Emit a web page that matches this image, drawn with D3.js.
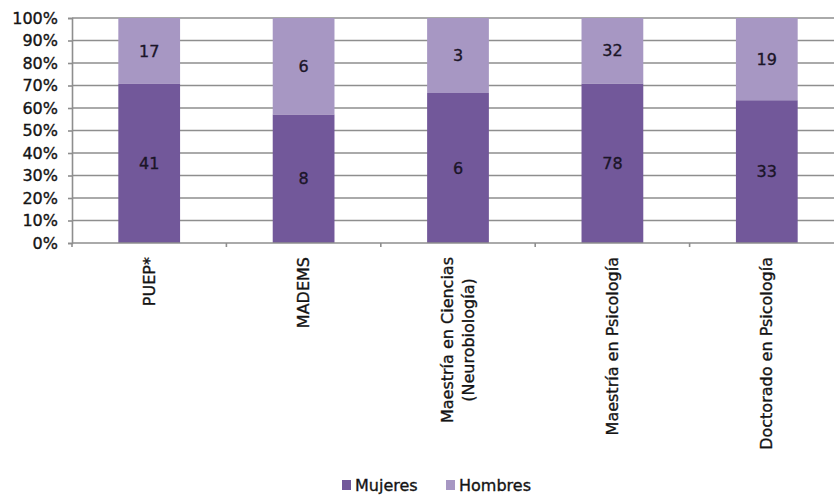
<!DOCTYPE html>
<html>
<head>
<meta charset="utf-8">
<script src="https://cdn.jsdelivr.net/npm/d3@7"></script>
<style>
  html, body { margin: 0; padding: 0; background: #fff; }
  svg { display: block; font-family: "DejaVu Sans", sans-serif; }
  svg text { stroke: currentColor; stroke-width: 0.35px; }
</style>
</head>
<body>
<svg id="chart" width="834" height="496" style="color:#141414"></svg>
<script>
const categories = ["PUEP*", "MADEMS", "Maestría en Ciencias\n(Neurobiología)", "Maestría en Psicología", "Doctorado en Psicología"];
const mujeres = [41, 8, 6, 78, 33];
const hombres = [17, 6, 3, 32, 19];
const seriesNames = ["Mujeres", "Hombres"];
const yTicks = [0, 0.1, 0.2, 0.3, 0.4, 0.5, 0.6, 0.7, 0.8, 0.9, 1.0];

const colors = { Mujeres: "#72589a", Hombres: "#a797c3" };

const svg = d3.select("#chart");
const pLeft = 72, pRight = 844, pTop = 18, pBottom = 243;

const x = d3.scaleBand().domain(categories).range([pLeft, pRight]).paddingInner(0.6).paddingOuter(0.3);
const xb = d3.scaleBand().domain(categories).range([pLeft, pRight]);
const y = d3.scaleLinear().domain([0, 1]).range([pBottom, pTop]);

const rows = categories.map((c, i) => ({ cat: c, Mujeres: mujeres[i], Hombres: hombres[i] }));
const stack = d3.stack().keys(seriesNames).offset(d3.stackOffsetExpand);
const stacked = stack(rows);

// gridlines
svg.append("g").selectAll("line").data(yTicks.filter(t => t > 0)).join("line")
  .attr("x1", pLeft).attr("x2", 834)
  .attr("y1", d => y(d)).attr("y2", d => y(d))
  .attr("stroke", "#8e8e8e").attr("stroke-width", 1.6);

// y axis
const yAxis = d3.axisLeft(y).tickValues(yTicks).tickFormat(d3.format(".0%")).tickSize(4).tickPadding(10);
const ga = svg.append("g").attr("transform", `translate(${pLeft},0)`).call(yAxis);
ga.select(".domain").attr("stroke", "#8e8e8e").attr("stroke-width", 1.6);
ga.selectAll(".tick line").attr("stroke", "#8e8e8e").attr("stroke-width", 1.6);
ga.selectAll("text").attr("font-size", 16).attr("fill", "#141414").attr("font-family", "DejaVu Sans");

// bars
svg.append("g").selectAll("g").data(stacked).join("g")
  .attr("fill", d => colors[d.key])
  .selectAll("rect").data(d => d).join("rect")
  .attr("x", d => x(d.data.cat))
  .attr("width", x.bandwidth())
  .attr("y", d => y(d[1]))
  .attr("height", d => y(d[0]) - y(d[1]));

// value labels
svg.append("g").style("color", "#1b1528").selectAll("g").data(stacked).join("g")
  .selectAll("text").data(d => d.map(v => ({ v, key: d.key }))).join("text")
  .attr("x", d => x(d.v.data.cat) + x.bandwidth() / 2)
  .attr("y", d => (y(d.v[0]) + y(d.v[1])) / 2)
  .attr("dy", "0.35em")
  .attr("text-anchor", "middle")
  .attr("font-size", 16)
  .attr("fill", "#1b1528")
  .text(d => d.v.data[d.key]);

// x axis line + ticks
svg.append("line").attr("x1", pLeft).attr("x2", 834).attr("y1", pBottom).attr("y2", pBottom)
  .attr("stroke", "#8e8e8e").attr("stroke-width", 1.6);
const bounds = categories.map(c => xb(c)).concat([pRight]);
svg.append("g").selectAll("line").data(bounds).join("line")
  .attr("x1", d => d).attr("x2", d => d).attr("y1", pBottom).attr("y2", pBottom + 4)
  .attr("stroke", "#8e8e8e").attr("stroke-width", 1.6);

// category labels (rotated)
const labelTop = 257;
categories.forEach(c => {
  const lines = c.split("\n");
  const g = svg.append("g");
  const n = lines.length;
  const lh = 21;
  const texts = lines.map((ln, i) => g.append("text")
    .attr("x", 0)
    .attr("y", (i - (n - 1) / 2) * lh)
    .attr("dy", "0.35em")
    .attr("text-anchor", "middle")
    .attr("font-size", 16)
    .attr("fill", "#141414")
    .text(ln));
  const maxW = d3.max(texts, t => t.node().getComputedTextLength());
  const cx = xb(c) + xb.bandwidth() / 2;
  g.attr("transform", `translate(${cx},${labelTop + maxW / 2}) rotate(-90)`);
});

// legend
const legend = [{ name: "Mujeres", x: 342 }, { name: "Hombres", x: 446 }];
const lg = svg.append("g");
legend.forEach(l => {
  lg.append("rect").attr("x", l.x).attr("y", 480).attr("width", 9).attr("height", 10).attr("fill", colors[l.name]);
  lg.append("text").attr("x", l.x + 13).attr("y", 491).attr("font-size", 16).attr("fill", "#141414").text(l.name);
});
</script>
</body>
</html>
